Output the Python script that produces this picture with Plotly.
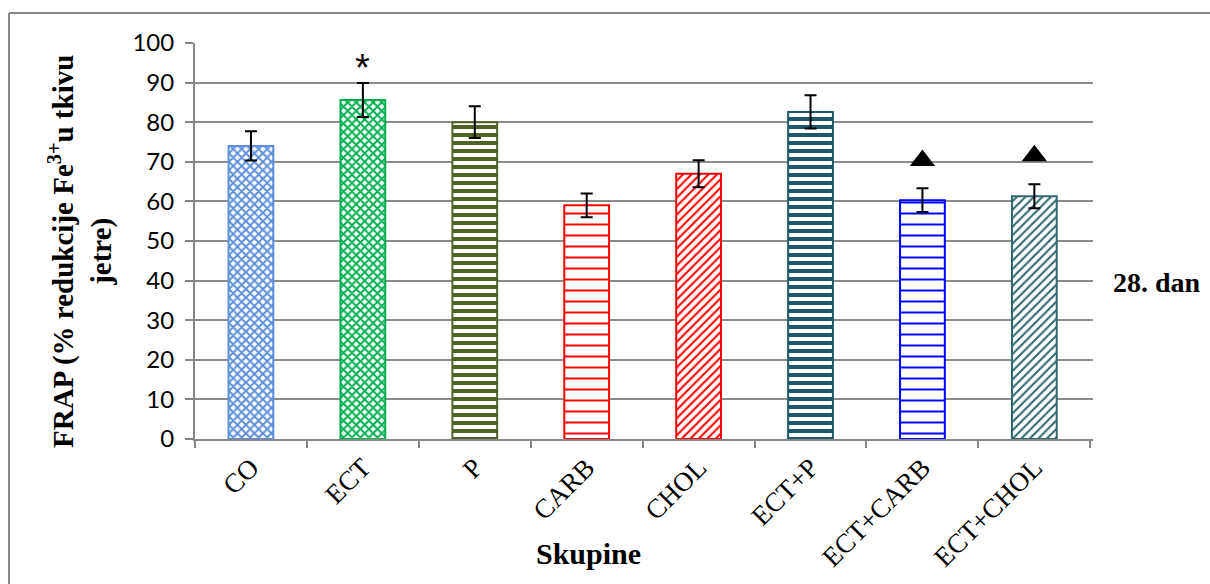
import plotly.graph_objects as go

categories = ["CO", "ECT", "P", "CARB", "CHOL", "ECT+P", "ECT+CARB", "ECT+CHOL"]
values = [74.0, 85.6, 80.0, 59.0, 67.0, 82.6, 60.3, 61.3]
errors = [3.7, 4.3, 4.0, 3.0, 3.4, 4.2, 3.0, 3.0]
colors = ["#5B8FDB", "#00B050", "#4F6228", "#FF0000", "#FF0000", "#215868", "#0000FF", "#31676F"]
shapes_pat = ["x", "x", "-", "-", "/", "-", "-", "/"]
pat_sizes = [6, 6, 8, 11, 6, 8, 11, 6]
pat_solid = [0.55, 0.55, 0.5, 0.18, 0.35, 0.5, 0.18, 0.35]

star_cat = ["ECT"]
star_y = [93.8]
tri_cat = ["ECT+CARB", "ECT+CHOL"]
tri_y = [70.3, 71.5]

SERIF = "Liberation Serif, Times New Roman, serif"

W, H = 1210, 584
L, R, T, B = 195, 117, 43, 145
PW, PH = W - L - R, H - T - B


def px(x):
    return (x - L) / PW


def py(y):
    return 1 - (y - T) / PH


fig = go.Figure()
for c, v, e, col, sh, sz, so in zip(categories, values, errors, colors, shapes_pat, pat_sizes, pat_solid):
    fig.add_trace(go.Bar(
        x=[c], y=[v],
        width=0.4,
        marker=dict(
            color="white",
            line=dict(color=col, width=2),
            pattern=dict(shape=sh, fgcolor=col, bgcolor="white", size=sz, solidity=so, fillmode="replace"),
        ),
        error_y=dict(type="data", array=[e], color="black", thickness=2, width=6),
        showlegend=False,
    ))

fig.add_trace(go.Scatter(
    x=tri_cat, y=tri_y, mode="markers",
    marker=dict(symbol="triangle-up", size=22, color="black"),
    showlegend=False, hoverinfo="skip",
))

for c, y in zip(star_cat, star_y):
    fig.add_annotation(x=c, y=y, text="*", showarrow=False, yanchor="middle",
                       font=dict(family="Liberation Sans", size=38, color="black"))

fig.add_annotation(xref="paper", yref="paper", x=px(1111), y=py(282), xanchor="left", yanchor="middle",
                   text="<b>28. dan</b>", showarrow=False,
                   font=dict(family=SERIF, size=28, color="black"))

fig.add_annotation(xref="paper", yref="paper", x=px(80), y=py(252), xanchor="center", yanchor="middle",
                   textangle=-90, showarrow=False,
                   text="<b>FRAP (% redukcije Fe<sup>3+</sup>u tkivu<br>jetre)</b>",
                   font=dict(family=SERIF, size=29, color="black"))

fig.add_annotation(xref="paper", yref="paper", x=px(588), y=py(553), xanchor="center", yanchor="middle",
                   showarrow=False, text="<b>Skupine</b>",
                   font=dict(family=SERIF, size=30, color="black"))

# outer chart border: only left and top edges are visible in the frame
fig.add_shape(type="line", xref="paper", yref="paper",
              x0=px(9), x1=px(9), y0=-1.0, y1=py(13),
              line=dict(color="#898989", width=2), layer="below")
fig.add_shape(type="line", xref="paper", yref="paper",
              x0=px(9), x1=1.5, y0=py(13), y1=py(13),
              line=dict(color="#898989", width=2), layer="below")

fig.update_layout(
    width=W, height=H,
    margin=dict(l=L, r=R, t=T, b=B, autoexpand=False),
    plot_bgcolor="white", paper_bgcolor="white",
    xaxis=dict(
        categoryorder="array", categoryarray=categories,
        showline=True, linecolor="#868686", linewidth=2,
        ticks="outside", tickson="boundaries", ticklen=7, tickcolor="#868686", tickwidth=1.5,
        tickangle=-45,
        tickfont=dict(family=SERIF, size=27, color="black"),
        showgrid=False,
    ),
    yaxis=dict(
        range=[0, 100], dtick=10,
        showline=True, linecolor="#868686", linewidth=2,
        ticks="outside", ticklen=8, tickcolor="#868686", tickwidth=1.5,
        ticklabelstandoff=6,
        tickfont=dict(family="Lato", size=24, color="black"),
        showgrid=True, gridcolor="#8C8C8C", gridwidth=1.5,
        zeroline=False,
    ),
)

fig.write_html("out.html", config={"displayModeBar": False},
               post_script="document.body.style.margin='0';document.body.style.overflow='hidden';")
